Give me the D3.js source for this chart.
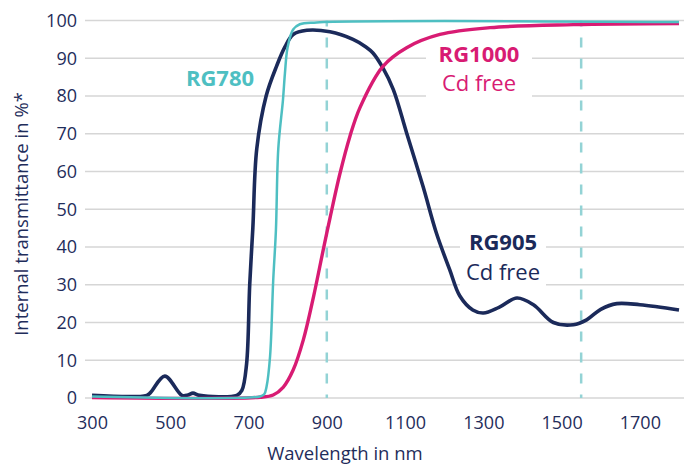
<!DOCTYPE html>
<html>
<head>
<meta charset="utf-8">
<script src="https://cdn.jsdelivr.net/npm/d3@7"></script>
<style>
  body { margin: 0; background: #fff; }
  svg { display: block; font-family: "Open Sans", sans-serif; }
  .tick text { fill: #1f2d5b; font-size: 18px; }
</style>
</head>
<body>
<div id="chart"></div>
<script>
// values
var xTicks = [300, 500, 700, 900, 1100, 1300, 1500, 1700];
var yTicks = [0, 10, 20, 30, 40, 50, 60, 70, 80, 90, 100];
var markerWl = [900, 1550];

var rg905Wl = [300, 440, 450, 486, 530, 545, 558, 575, 670, 683, 695, 703, 711, 721, 745, 772, 793, 814, 849, 908, 967, 1000, 1018, 1043, 1070, 1104, 1146, 1180, 1214, 1240, 1273, 1300, 1340, 1386, 1428, 1479, 1530, 1564, 1600, 1641, 1700, 1800];
var rg905T  = [0.7, 0.7, 1.5, 5.8, 0.7, 0.8, 1.3, 0.7, 0.7, 2, 9, 30, 45, 66, 80, 88, 93, 96.3, 97.4, 97, 95, 93, 91.4, 87.5, 81.7, 70.2, 56, 43.7, 34, 27, 23.3, 22.5, 24, 26.5, 24.7, 20, 19.4, 20.7, 23.5, 25, 24.7, 23.3];

var rg780Wl = [300, 729, 740, 746, 755, 763, 770, 776, 788, 793, 800, 814, 831, 874, 1800];
var rg780T  = [0.4, 0.4, 1, 3, 11, 31, 44.5, 66, 79, 86, 93, 97.6, 99, 99.5, 99.6];

var rg1000Wl = [300, 730, 763, 789, 814, 840, 866, 891, 908, 933, 959, 985, 1043, 1104, 1189, 1317, 1530, 1800];
var rg1000T  = [0.1, 0.2, 0.8, 2.9, 7.4, 15.4, 26.8, 39.3, 47.6, 59.2, 69.3, 77, 87.8, 92.8, 96.3, 98.1, 98.9, 99.2];

var width = 684, height = 464;

var svg = d3.select("#chart").append("svg")
    .attr("width", width)
    .attr("height", height);

var x = d3.scaleLinear().domain([300, 1800]).range([92, 679]);
var y = d3.scaleLinear().domain([0, 100]).range([398, 20.5]);

// grid
svg.append("g")
    .selectAll("line")
    .data(yTicks)
    .enter()
    .append("line")
    .attr("x1", 85)
    .attr("x2", width)
    .attr("y1", d => y(d))
    .attr("y2", d => y(d))
    .attr("stroke", "#d6d6d6")
    .attr("stroke-width", 1.5);

// dashed markers
svg.append("g")
    .selectAll("line")
    .data(markerWl)
    .enter()
    .append("line")
    .attr("x1", d => x(d))
    .attr("x2", d => x(d))
    .attr("y1", y(100))
    .attr("y2", y(0))
    .attr("stroke", "#93d3d5")
    .attr("stroke-width", 2.5)
    .attr("stroke-dasharray", "10,11")
    .attr("stroke-dashoffset", 4);

// axes
var yAxis = svg.append("g")
    .attr("transform", "translate(77,0)")
    .call(d3.axisLeft(y).tickValues(yTicks).tickSize(0).tickPadding(0));
yAxis.select(".domain").remove();

var xAxis = svg.append("g")
    .attr("transform", "translate(0,398)")
    .call(d3.axisBottom(x).tickValues(xTicks).tickFormat(d3.format("d")).tickSize(0).tickPadding(18));
xAxis.select(".domain").remove();

svg.selectAll(".tick text").attr("font-family", "Open Sans, sans-serif");

svg.append("text")
    .attr("transform", "translate(28,214) rotate(-90)")
    .attr("text-anchor", "middle")
    .attr("fill", "#1f2d5b")
    .style("font-size", "18.5px")
    .text("Internal transmittance in %*");

svg.append("text")
    .attr("x", 345)
    .attr("y", 460)
    .attr("text-anchor", "middle")
    .attr("fill", "#1f2d5b")
    .style("font-size", "18.5px")
    .text("Wavelength in nm");

// curves
var line = d3.line()
    .x(d => x(d[0]))
    .y(d => y(d[1]))
    .curve(d3.curveCatmullRom.alpha(0.5));

function drawCurve(wl, t, color, w) {
    svg.append("path")
        .datum(d3.zip(wl, t))
        .attr("d", line)
        .attr("fill", "none")
        .attr("stroke", color)
        .attr("stroke-width", w)
        .attr("stroke-linejoin", "round");
}

drawCurve(rg905Wl, rg905T, "#1b2a5a", 3.6);
drawCurve(rg1000Wl, rg1000T, "#d81b73", 3.4);
drawCurve(rg780Wl, rg780T, "#4ebfc2", 2.5);

// labels
function label(cx, lines, color, boxed) {
    var g = svg.append("g");
    if (boxed) {
        g.append("rect")
            .attr("x", boxed[0])
            .attr("y", boxed[1])
            .attr("width", boxed[2])
            .attr("height", boxed[3])
            .attr("fill", "#fff");
    }
    lines.forEach(l => {
        g.append("text")
            .attr("x", cx)
            .attr("y", l.y)
            .attr("text-anchor", "middle")
            .attr("fill", color)
            .style("font-size", "22px")
            .style("font-weight", l.bold ? 700 : 400)
            .text(l.text);
    });
}

label(220, [{text: "RG780", y: 86, bold: true}], "#4ebfc2");
label(479, [{text: "RG1000", y: 62, bold: true}, {text: "Cd free", y: 91}], "#d81b73", [426, 42, 106, 56]);
label(503, [{text: "RG905", y: 250, bold: true}, {text: "Cd free", y: 280}], "#1b2a5a", [460, 230, 86, 56]);
</script>
</body>
</html>
